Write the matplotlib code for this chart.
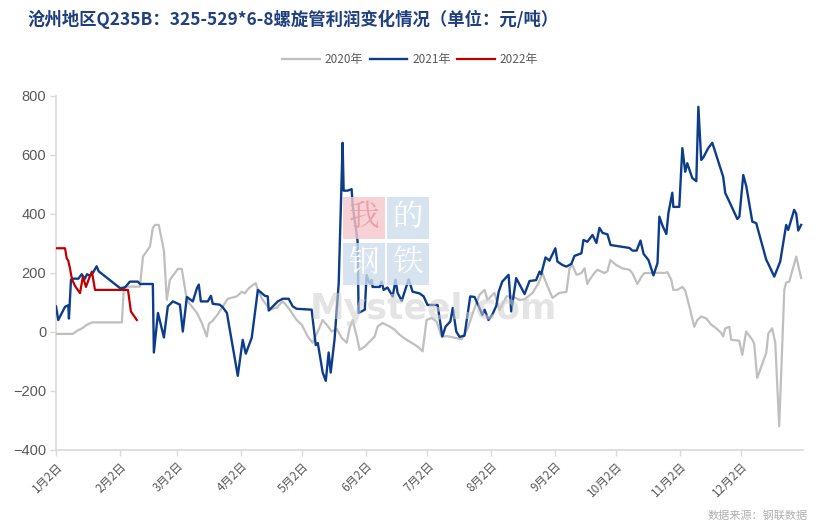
import matplotlib
matplotlib.use('Agg')
import matplotlib.pyplot as plt
from matplotlib.patches import Rectangle

plt.rcParams['font.family'] = ['Noto Sans CJK SC', 'DejaVu Sans']

# day index: Jan 1 = 0, so "1月2日" = 1
days_2020 = [1, 9.1, 11.7, 13.7, 16.1, 18.5, 33.1, 34.1, 41.9, 43.4,
             46.8, 48.2, 49.2, 51.1, 53.6, 55, 56.5, 58, 60.4, 62.3,
             64.8, 67.2, 69.7, 72.1, 74.5, 75.5, 77.4, 79.9, 82.3, 84.7,
             89.1, 91.6, 93, 95, 96.9, 98.4, 99.4, 101.8, 105.2, 108.6,
             111.5, 113, 114.9, 118.3, 120.8, 123.7, 126.1, 128.6, 131, 133.4,
             135.4, 137.8, 140.3, 142.7, 144.1, 145.6, 147.6, 149, 151.5, 153.9,
             156.3, 157.8, 160.2, 163.6, 166.1, 168.5, 171.9, 174.3, 177.3, 179.7,
             181.6, 184.1, 186.5, 188.9, 191.9, 195.3, 198.7, 201.6, 205, 207.4,
             209.9, 211.3, 214.7, 217.2, 220.6, 223.5, 226.9, 229.4, 233.3, 236.2,
             238.1, 240.6, 243, 246.4, 249.8, 251.3, 252.7, 254.7, 257.1, 258.6,
             260, 261, 263.4, 264.9, 268.3, 269.8, 271.2, 274.1, 277.1, 280.5,
             281.9, 284.4, 286.4, 287.8, 291.7, 295.1, 297.5, 299, 300.9, 301.9,
             303.8, 306.3, 307.7, 309.7, 312.1, 313.6, 315.5, 318, 320.4, 322.8,
             325.3, 326.2, 327.2, 329.2, 330.1, 334, 335.5, 337.4, 340.4, 341.3,
             342.8, 347.2, 348.2, 350.1, 351.6, 353.5, 356, 356.9, 358.4, 361.8,
             364.2]
vals_2020 = [-7, -7, 5, 12, 24, 32, 32, 153, 153, 255,
             289, 352, 362, 362, 275, 108, 176, 190, 213, 213,
             108, 86, 64, 30, -16, 27, 38, 60, 86, 112,
             120, 136, 130, 148, 158, 165, 140, 108, 75, 82,
             103, 92, 75, 40, 24, -16, -37, 1, 40, 20,
             1, 10, -21, -37, 13, 40, -16, -61, -50, -33,
             -16, 18, 30, 18, 7, -10, -27, -37, -50, -66,
             40, 47, 35, -15, -15, -20, -25, 10, 80, 125,
             142, 108, 132, 74, 120, 120, 108, 110, 132, 165,
             199, 153, 115, 132, 135, 215, 226, 193, 199, 215,
             162, 175, 199, 210, 199, 205, 243, 226, 215, 210,
             199, 162, 187, 199, 199, 200, 199, 202, 176, 142,
             142, 152, 140, 86, 17, 40, 52, 45, 24, 12,
             -4, -15, 12, 17, -27, -30, -78, 1, -27, -40,
             -156, -71, -6, 12, -38, -320, 142, 167, 170, 255,
             182]

days_2021 = [1, 2.1, 5.4, 7, 7.3, 8.3, 9.1, 11.9, 13.5, 15.1,
             16.1, 17.6, 19, 20.8, 21.8, 32.2, 34.6, 37, 40.9, 41.9,
             48.2, 48.7, 50.7, 53.6, 55.5, 58, 61.4, 62.8, 64.8, 67.7,
             69.7, 70.6, 71.6, 75, 76.5, 77.4, 80.8, 82.3, 84.3, 89.6,
             92, 93.5, 96.4, 99.4, 102.8, 104.2, 104.7, 109.1, 111.5, 114.4,
             116.4, 118.3, 125.6, 127.6, 128.6, 131, 132.5, 133.9, 134.9, 136.8,
             138.8, 140.7, 141.2, 143.1, 145.1, 145.6, 148, 148.5, 151.5, 152.4,
             153.9, 154.9, 155.3, 158.8, 159.7, 160.7, 162.6, 165.1, 166.5, 167.5,
             169.5, 172.9, 174.8, 178.2, 180.2, 182.1, 187, 189.3, 190.9, 193.2,
             194.4, 196.1, 197.7, 200.1, 202.9, 205, 207.4, 208.8, 209.9, 211.8,
             213.8, 215.6, 216.8, 218.5, 221.6, 222.9, 225.3, 229.4, 231.8, 235,
             236.7, 237.5, 239.6, 241.5, 244.4, 245.4, 247.9, 249.8, 252.2, 253.7,
             257.1, 258.1, 260, 262.5, 264.4, 265.9, 267.4, 269.8, 271.3, 280.5,
             282, 284, 285.9, 287.4, 289.8, 292.2, 294.2, 295.1, 296.6, 298.5,
             299.5, 301.4, 301.9, 304.8, 306.3, 307.7, 308.7, 311.1, 313.1, 314.1,
             315.5, 316.5, 318.9, 320.9, 326.2, 327.2, 329.2, 333.1, 334.1, 336,
             337.5, 340.4, 342.3, 347.2, 348.2, 351.1, 354, 356.9, 357.9, 360.8,
             361.8, 362.8, 364.2]
vals_2021 = [86, 40, 85, 90, 45, 176, 180, 180, 195, 180,
             195, 190, 200, 222, 205, 148, 150, 170, 170, 162,
             162, -70, 64, -19, 86, 103, 92, 1, 118, 103,
             148, 160, 103, 103, 122, 95, 92, 83, 64, -149,
             -27, -74, -20, 142, 122, 120, 72, 103, 112, 112,
             86, 78, 75, -45, -38, -138, -166, -70, -138, -23,
             165, 640, 478, 478, 483, 428, 306, 64, 75, 192,
             163, 176, 152, 152, 170, 142, 150, 120, 176, 132,
             105, 178, 136, 130, 120, 91, 91, -16, 18, 35,
             81, 1, -17, -13, 120, 118, 81, 57, 75, 40,
             60, 88, 136, 170, 193, 69, 182, 128, 172, 175,
             204, 195, 252, 241, 283, 238, 226, 221, 230, 257,
             266, 311, 305, 328, 301, 352, 335, 330, 294, 284,
             275, 275, 309, 264, 243, 191, 233, 390, 360, 331,
             402, 471, 423, 423, 622, 542, 571, 521, 510, 762,
             582, 590, 622, 640, 525, 470, 441, 382, 390, 531,
             492, 373, 368, 244, 230, 187, 238, 362, 345, 413,
             400, 343, 362]

days_2022 = [1, 5.4, 6.2, 7, 7.8, 8.8, 10.3, 12.7, 14.1, 15.6,
             17.6, 18.5, 20, 36.1, 37.5, 40.4]
vals_2022 = [283, 283, 250, 240, 215, 178, 155, 131, 187, 152,
             190, 204, 142, 142, 69, 40]

tick_days = [1, 32, 60, 91, 121, 152, 182, 213, 244, 274, 305, 335]
tick_labels = ['1月2日', '2月2日', '3月2日', '4月2日', '5月2日', '6月2日',
               '7月2日', '8月2日', '9月2日', '10月2日', '11月2日', '12月2日']

fig = plt.figure(figsize=(8.2, 5.25), dpi=100)
ax = fig.add_axes([0.0683, 0.1429, 0.9107, 0.6751])

# watermark
wm_boxes = [(0.418, 0.545, '#f4c7cc', '我', '#e9a0a8'), (0.472, 0.545, '#cddcec', '的', '#ffffff'),
            (0.418, 0.458, '#cddcec', '钢', '#ffffff'), (0.472, 0.458, '#cddcec', '铁', '#ffffff')]
for bx, by, bc, ch, tc in wm_boxes:
    fig.patches.append(Rectangle((bx, by), 0.051, 0.08, transform=fig.transFigure,
                                 facecolor=bc, edgecolor='none', alpha=0.8, zorder=0))
    fig.text(bx + 0.0255, by + 0.04, ch, ha='center', va='center', fontsize=22,
             color=tc, family=['Noto Serif CJK SC', 'Noto Sans CJK SC'], zorder=1)
fig.text(0.378, 0.412, 'Mysteel.com', ha='left', va='center', fontsize=25,
         color='#cfcfcf', alpha=0.55, fontweight='bold', family='DejaVu Sans', zorder=1)

ax.patch.set_alpha(0)
ax.plot(days_2020, vals_2020, color='#bfbfbf', lw=1.6, label='2020年', zorder=3)
ax.plot(days_2021, vals_2021, color='#0d3d8a', lw=1.7, label='2021年', zorder=4)
ax.plot(days_2022, vals_2022, color='#c00000', lw=1.6, label='2022年', zorder=5)

ax.set_xlim(1, 365)
ax.set_ylim(-400, 800)
ax.set_yticks(range(-400, 801, 200))
ax.set_xticks(tick_days)
ax.set_xticklabels(tick_labels, rotation=45, ha='right', rotation_mode='anchor',
                   fontsize=8.5, color='#595959')
for lab in ax.get_yticklabels():
    lab.set_fontsize(10.5)
    lab.set_color('#595959')
    lab.set_family('Liberation Sans')
ax.tick_params(axis='both', color='#d9d9d9', length=4, width=1)
ax.tick_params(axis='x', pad=3)
ax.tick_params(axis='y', pad=3)
for s in ['top', 'right']:
    ax.spines[s].set_visible(False)
for s in ['left', 'bottom']:
    ax.spines[s].set_color('#d9d9d9')
    ax.spines[s].set_linewidth(1.2)

leg = fig.legend(loc='center', bbox_to_anchor=(0.5, 0.887), ncol=3, frameon=False,
                 fontsize=8.5, handlelength=3.2, columnspacing=0.6, handletextpad=0.4)
for t in leg.get_texts():
    t.set_color('#595959')

fig.text(0.034, 0.963, '沧州地区Q235B：325-529*6-8螺旋管利润变化情况（单位：元/吨）',
         ha='left', va='center', fontsize=12.5, fontweight='bold', color='#1f3f7f')
fig.text(0.985, 0.018, '数据来源：钢联数据', ha='right', va='center', fontsize=8, color='#b0b0b0')

fig.savefig('out.png', dpi=100)
